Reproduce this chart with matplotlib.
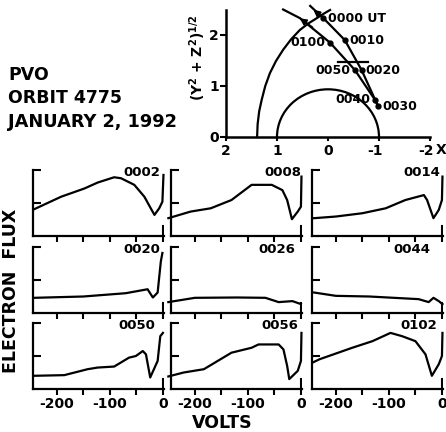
import matplotlib
matplotlib.use('Agg')
import matplotlib.pyplot as plt
from matplotlib.patches import Arc
from matplotlib.transforms import ScaledTranslation

plt.rcParams['font.family'] = 'DejaVu Sans'
plt.rcParams['font.weight'] = 'bold'
plt.rcParams['axes.unicode_minus'] = False

W, H = 446, 432

# orbit panel data (Venus radii)
bow_x = [1.39, 1.38, 1.35, 1.30, 1.23, 1.14, 1.02, 0.88, 0.72, 0.55, 0.38, 0.22, 0.08, -0.04]
bow_y = [0.0, 0.25, 0.50, 0.73, 1.00, 1.25, 1.49, 1.71, 1.92, 2.10, 2.23, 2.33, 2.42, 2.49]
in_x = [0.35, 0.09, -0.33, -0.66, -0.87, -0.99]
in_y = [2.57, 2.33, 1.90, 1.31, 0.85, 0.58]
out_x = [-0.99, -0.92, -0.53, -0.04, 0.55, 0.88]
out_y = [0.60, 0.73, 1.31, 1.85, 2.33, 2.50]
mp_x = [-0.20, -0.79]
mp_y = [1.48, 1.48]
times = ['0000 UT', '0010', '0020', '0030', '0040', '0050', '0100']
time_x = [0.09, -0.33, -0.66, -0.99, -0.92, -0.53, -0.04]
time_y = [2.33, 1.90, 1.31, 0.60, 0.73, 1.31, 1.85]
label_side = ['r', 'r', 'r', 'r', 'l', 'l', 'l']

# electron spectra (volts, log flux in decades above bottom)
labels = ['0002', '0008', '0014', '0020', '0026', '0044', '0050', '0056', '0102']
volts = [
    [-243, -192, -148, -123, -92, -79, -54, -35, -23, -16, -7, -1, 1],
    [-250, -208, -170, -131, -93, -55, -35, -26, -17, -6, 0, 1],
    [-241, -200, -150, -106, -69, -34, -28, -16, -6, 0, 1],
    [-243, -150, -70, -29, -19, -10, -4, -1],
    [-250, -200, -120, -67, -42, -16, 0],
    [-241, -200, -137, -44, -25, -16, -6, 1],
    [-243, -186, -142, -123, -92, -64, -51, -38, -32, -24, -10, -5, 0],
    [-250, -221, -183, -131, -93, -80, -42, -33, -26, -22, -6, 0, 1],
    [-244, -231, -169, -131, -97, -75, -50, -31, -19, -6, 0, 1],
]
flux = [
    [0.81, 1.19, 1.44, 1.62, 1.78, 1.75, 1.55, 1.19, 0.84, 0.64, 0.84, 1.04, 1.85],
    [0.54, 0.74, 0.84, 1.09, 1.55, 1.55, 1.39, 1.09, 0.51, 0.74, 0.89, 1.80],
    [0.54, 0.59, 0.69, 0.84, 1.09, 1.24, 1.09, 0.54, 0.79, 1.09, 1.80],
    [0.46, 0.50, 0.60, 0.72, 0.47, 0.62, 1.56, 1.82],
    [0.33, 0.46, 0.47, 0.46, 0.33, 0.36, 0.27],
    [0.62, 0.52, 0.50, 0.42, 0.33, 0.46, 0.36, 0.27],
    [0.40, 0.42, 0.60, 0.65, 0.68, 0.95, 1.00, 1.15, 1.05, 0.35, 0.85, 1.60, 1.70],
    [0.38, 0.50, 0.60, 1.10, 1.25, 1.35, 1.35, 1.20, 0.70, 0.30, 0.55, 0.85, 1.70],
    [0.80, 0.90, 1.25, 1.45, 1.70, 1.60, 1.45, 1.05, 0.40, 0.75, 1.00, 1.70],
]
label_right = [160, 301, 440, 160, 295, 430, 155, 298, 437]


def fx(px):
    return px / W


def fy(py):
    return 1 - py / H


fig = plt.figure(figsize=(W / 100, H / 100), dpi=100)

# ---- orbit panel
ax = fig.add_axes([fx(226), fy(137), fx(430) - fx(226), fy(10) - fy(137)])
ax.set_xlim(2, -2)
ax.set_ylim(0, 2.49)
for s in ['top', 'right']:
    ax.spines[s].set_visible(False)
for s in ['left', 'bottom']:
    ax.spines[s].set_linewidth(1.8)
ax.set_xticks([2, 1, 0, -1, -2])
ax.set_xticklabels(['2', '1', '0', '-1', '-2'])
ax.set_yticks([0, 1, 2])
ax.tick_params(axis='y', direction='out', length=4, width=1.5, labelsize=10, pad=1)
ax.tick_params(axis='x', direction='out', length=3, width=1.5, labelsize=10, pad=2)
# minus sign hangs left of the tick, digit sits on it
for lab in ax.get_xticklabels()[3:]:
    lab.set_transform(lab.get_transform() + ScaledTranslation(-3 / 72, 0, fig.dpi_scale_trans))
ax.text(fx(436), fy(150), 'X', transform=fig.transFigure, fontsize=10, va='center', ha='left')

ax.add_patch(Arc((0, 0), 2.0, 1.87, theta1=0, theta2=180, lw=1.6, color='black'))
ax.plot(bow_x, bow_y, color='black', lw=1.6, clip_on=False)
ax.plot(in_x, in_y, color='black', lw=1.6, clip_on=False)
ax.plot(out_x, out_y, color='black', lw=1.6, clip_on=False)
ax.plot(mp_x, mp_y, color='black', lw=1.6)
ax.plot(time_x, time_y, 'o', color='black', ms=3.5, clip_on=False)
# direction arrows on the two legs
ax.annotate('', xy=(in_x[0] - 0.02, in_y[0] - 0.04), xytext=(in_x[1] + 0.02, in_y[1] + 0.02),
            arrowprops=dict(arrowstyle='-|>', color='black', lw=1.2, mutation_scale=10),
            annotation_clip=False)
ax.annotate('', xy=(out_x[-2] + 0.05, out_y[-2] + 0.03), xytext=(out_x[-3] + 0.3, out_y[-3] + 0.27),
            arrowprops=dict(arrowstyle='-|>', color='black', lw=1.2, mutation_scale=10),
            annotation_clip=False)
for t, x, y, side in zip(times, time_x, time_y, label_side):
    if side == 'r':
        ax.annotate(t, (x, y), xytext=(3, 0), textcoords='offset points',
                    ha='left', va='center', fontsize=9, annotation_clip=False)
    else:
        ax.annotate(t, (x, y), xytext=(-3, 0), textcoords='offset points',
                    ha='right', va='center', fontsize=9, annotation_clip=False)
ax.text(fx(198), fy(58), '(Y$^\\mathbf{2}$ + Z$^\\mathbf{2}$)$^{\\mathbf{1/2}}$', transform=fig.transFigure,
        rotation=90, ha='center', va='center', fontsize=10)

# ---- title block
fig.text(fx(8), fy(80), 'PVO', fontsize=12.5, va='baseline')
fig.text(fx(8), fy(103), 'ORBIT 4775', fontsize=12.5, va='baseline')
fig.text(fx(8), fy(127), 'JANUARY 2, 1992', fontsize=12.8, va='baseline')

# ---- spectra grid
col_left = [33, 171, 312]
row_top = [170, 247, 323]
pw, ph = 131, 66
for i in range(9):
    r, c = divmod(i, 3)
    a = fig.add_axes([fx(col_left[c]), fy(row_top[r] + ph), pw / W, ph / H])
    a.set_xlim(-245, 2)
    a.set_ylim(0, 2)
    a.plot(volts[i], flux[i], color='black', lw=1.6, clip_on=False)
    for s in ['top', 'right']:
        a.spines[s].set_visible(False)
    for s in ['left', 'bottom']:
        a.spines[s].set_linewidth(1.6)
    a.set_yticks([1, 2])
    a.set_yticklabels([])
    a.tick_params(axis='y', direction='in', length=6, width=1.5)
    a.set_xticks([-200, -150, -100, -50, 0])
    a.tick_params(axis='x', direction='out', length=4, width=1.5, labelsize=10, pad=2)
    a.axvline(0, ymin=0, ymax=0.15, color='black', lw=1.5)
    if r == 2:
        a.set_xticklabels(['-200', '', '-100', '', '0'])
    else:
        a.set_xticklabels([])
    fig.text(fx(label_right[i]), fy(row_top[r] - 4), labels[i], ha='right', va='top', fontsize=9.5)

fig.text(fx(222), fy(423), 'VOLTS', ha='center', va='center', fontsize=12.5)
fig.text(fx(11), fy(291), 'ELECTRON  FLUX', ha='center', va='center', rotation=90, fontsize=12.5)

fig.savefig('out.png', dpi=100)
